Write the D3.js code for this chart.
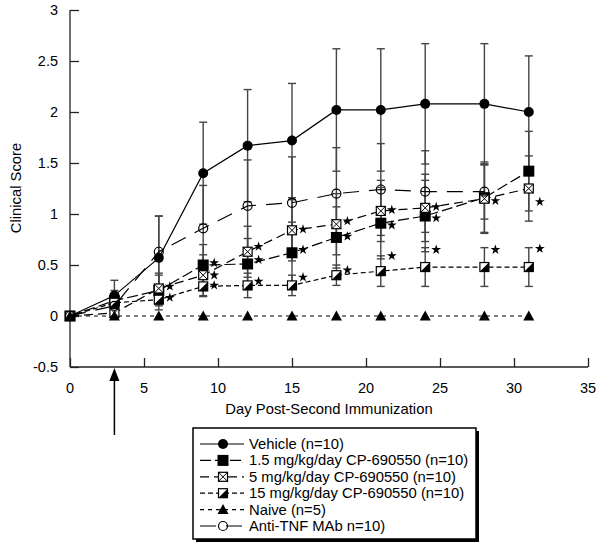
<!DOCTYPE html>
<html><head><meta charset="utf-8">
<script src="https://cdn.jsdelivr.net/npm/d3@7"></script>
<style>body{margin:0;background:#fff}svg{display:block;font-family:"Liberation Sans",Arial,sans-serif}</style>
</head><body><svg id="c" width="600" height="552"></svg>
<script>
const days = [0,3,6,9,12,15,18,21,24,28,31];
const daysTNF = [0,3,6,9,12,15,18,21,24,28];
const vehicle = [0,0.2,0.57,1.4,1.67,1.72,2.02,2.02,2.08,2.08,2.0];
const vehicleErr = [0,0.15,0.41,0.5,0.55,0.56,0.6,0.6,0.59,0.59,0.55];
const mg1_5 = [0,0.15,0.25,0.5,0.51,0.62,0.77,0.91,0.98,1.16,1.42];
const mg1_5Err = [0,0.1,0.15,0.2,0.25,0.3,0.3,0.35,0.35,0.35,0.39];
const mg5 = [0,0.03,0.27,0.4,0.63,0.84,0.9,1.03,1.06,1.15,1.25];
const mg5Err = [0,0.05,0.15,0.2,0.25,0.3,0.3,0.3,0.33,0.33,0.32];
const mg15 = [0,0.13,0.16,0.29,0.3,0.3,0.4,0.44,0.48,0.48,0.48];
const mg15Err = [0,0.08,0.1,0.1,0.12,0.1,0.1,0.15,0.19,0.19,0.19];
const naive = [0,0,0,0,0,0,0,0,0,0,0];
const antiTNF = [0,0.1,0.63,0.86,1.08,1.11,1.2,1.24,1.22,1.22];
const antiTNFErr = [0,0.1,0.35,0.42,0.45,0.45,0.45,0.45,0.4,0.27];
const mg1_5Star = [null,null,null,0.52,0.55,0.65,0.78,0.89,0.96,null,null];
const mg5Star = [null,null,0.29,0.4,0.68,0.85,0.93,1.04,1.07,1.13,1.12];
const mg15Star = [null,null,0.18,0.3,0.34,0.38,0.45,0.59,0.65,0.65,0.66];
const xTicks = [0,5,10,15,20,25,30,35];
const yTicks = [-0.5,0,0.5,1,1.5,2,2.5,3];
const legendLabels = ["Vehicle (n=10)","1.5 mg/kg/day CP-690550 (n=10)","5 mg/kg/day CP-690550 (n=10)","15 mg/kg/day CP-690550 (n=10)","Naive (n=5)","Anti-TNF MAb n=10)"];
const xTitle = "Day Post-Second Immunization";
const yTitle = "Clinical Score";
const arrowDay = 3;

const svg = d3.select("#c");
const x = d3.scaleLinear().domain([0,35]).range([70,588]);
const y = d3.scaleLinear().domain([-0.5,3]).range([367,10]);

// axes
const yAx = svg.append("g").attr("transform","translate(70,0)")
  .call(d3.axisRight(y).tickValues(yTicks).tickSize(9).tickFormat(d3.format("")));
yAx.select(".domain").remove();
yAx.selectAll("text").remove();
svg.append("line").attr("x1",70).attr("x2",70).attr("y1",y(3)).attr("y2",y(-0.5)).attr("stroke","#222").attr("stroke-width",1.3);
svg.append("g").selectAll("text").data(yTicks).join("text")
  .attr("x",58).attr("y",d=>y(d)+5).attr("text-anchor","end").attr("font-size",14.5).text(d=>d);
const xAx = svg.append("g").attr("transform","translate(0,367)")
  .call(d3.axisTop(x).tickValues(xTicks).tickSize(9));
xAx.select(".domain").remove();
xAx.selectAll("text").remove();
svg.append("line").attr("x1",70).attr("x2",x(35)).attr("y1",367).attr("y2",367).attr("stroke","#222").attr("stroke-width",1.3);
svg.selectAll(".tick line").attr("stroke","#222").attr("stroke-width",1.3);
svg.append("g").selectAll("text").data(xTicks).join("text")
  .attr("x",d=>x(d)).attr("y",393).attr("text-anchor","middle").attr("font-size",14.5).text(d=>d);
svg.append("text").attr("x",329).attr("y",414).attr("text-anchor","middle").attr("font-size",14.8).text(xTitle);
svg.append("text").attr("transform","translate(21,188) rotate(-90)").attr("text-anchor","middle").attr("font-size",14.8).text(yTitle);

// arrow
const ax = x(arrowDay);
svg.append("line").attr("x1",ax).attr("x2",ax).attr("y1",378).attr("y2",435).attr("stroke","#000").attr("stroke-width",1.5);
svg.append("path").attr("d",`M${ax},368 L${ax-5},381 L${ax+5},381 Z`).attr("fill","#000");

const series = [
  {name:"veh", xs:days, v:vehicle, e:vehicleErr, dash:null, m:"fcircle", star:null},
  {name:"m15", xs:days, v:mg1_5, e:mg1_5Err, dash:"11,4", m:"fsquare", star:mg1_5Star},
  {name:"m5", xs:days, v:mg5, e:mg5Err, dash:"9,5", m:"xsquare", star:mg5Star},
  {name:"m150", xs:days, v:mg15, e:mg15Err, dash:"5,3", m:"hsquare", star:mg15Star},
  {name:"naive", xs:days, v:naive, e:naive, dash:"4,4", m:"tri", star:null},
  {name:"tnf", xs:daysTNF, v:antiTNF, e:antiTNFErr, dash:"16,10", m:"ocircle", star:null}
];

// error bars
const eg = svg.append("g").attr("stroke","#444").attr("stroke-width",1.4);
series.forEach(s=>{
  s.v.forEach((v,i)=>{
    const e=s.e[i]; if(!e) return;
    const cx=x(s.xs[i]);
    eg.append("line").attr("x1",cx).attr("x2",cx).attr("y1",y(v-e)).attr("y2",y(v+e));
    [v-e,v+e].forEach(t=>eg.append("line").attr("x1",cx-4).attr("x2",cx+4).attr("y1",y(t)).attr("y2",y(t)));
  });
});

// lines
const line = d3.line().x(d=>x(d[0])).y(d=>y(d[1]));
series.forEach(s=>{
  svg.append("path").attr("d",line(s.xs.map((d,i)=>[d,s.v[i]])))
    .attr("fill","none").attr("stroke","#000").attr("stroke-width",1.2)
    .attr("stroke-dasharray",s.dash);
});

function marker(g,type,cx,cy){
  if(type==="fcircle") g.append("circle").attr("cx",cx).attr("cy",cy).attr("r",5).attr("fill","#000");
  else if(type==="ocircle") g.append("circle").attr("cx",cx).attr("cy",cy).attr("r",4.5).attr("fill","none").attr("stroke","#000").attr("stroke-width",1.2);
  else if(type==="fsquare") g.append("rect").attr("x",cx-5.5).attr("y",cy-5.5).attr("width",11).attr("height",11).attr("fill","#000");
  else if(type==="xsquare"){
    g.append("rect").attr("x",cx-4.5).attr("y",cy-4.5).attr("width",9).attr("height",9).attr("fill","#fff").attr("stroke","#000").attr("stroke-width",1.2);
    g.append("path").attr("d",`M${cx-4.5},${cy-4.5}L${cx+4.5},${cy+4.5}M${cx+4.5},${cy-4.5}L${cx-4.5},${cy+4.5}`).attr("stroke","#000").attr("stroke-width",1);
  } else if(type==="hsquare"){
    g.append("rect").attr("x",cx-4.5).attr("y",cy-4.5).attr("width",9).attr("height",9).attr("fill","#fff").attr("stroke","#000").attr("stroke-width",1.2);
    g.append("path").attr("d",`M${cx+4.5},${cy-4.5}L${cx+4.5},${cy+4.5}L${cx-4.5},${cy+4.5}Z`).attr("fill","#000");
  } else if(type==="tri") g.append("path").attr("d",`M${cx},${cy-5.5}L${cx+5.5},${cy+4.5}L${cx-5.5},${cy+4.5}Z`).attr("fill","#000");
}
const mg = svg.append("g");
series.forEach(s=>{ s.v.forEach((v,i)=>marker(mg,s.m,x(s.xs[i]),y(v))); });
// stars
const starPath = d3.symbol().type(d3.symbolStar).size(30)();
series.forEach(s=>{
  if(!s.star) return;
  s.star.forEach((v,i)=>{ if(v==null) return;
    svg.append("path").attr("d",starPath).attr("transform",`translate(${x(s.xs[i])+11},${y(v)})`).attr("fill","#000");
  });
});

// legend
const L = svg.append("g");
L.append("rect").attr("x",196).attr("y",431).attr("width",283).attr("height",111).attr("fill","#000");
L.append("rect").attr("x",193).attr("y",428).attr("width",283).attr("height",111).attr("fill","#fff").attr("stroke","#000").attr("stroke-width",1.5);
series.forEach((s,i)=>{
  const ly = 444 + i*16.4;
  L.append("line").attr("x1",200).attr("x2",244).attr("y1",ly).attr("y2",ly).attr("stroke","#000").attr("stroke-width",1.2).attr("stroke-dasharray",s.dash);
  marker(L,s.m,223,ly);
  L.append("text").attr("x",249).attr("y",ly+5).attr("font-size",14.8).text(legendLabels[i]);
});
</script></body></html>
